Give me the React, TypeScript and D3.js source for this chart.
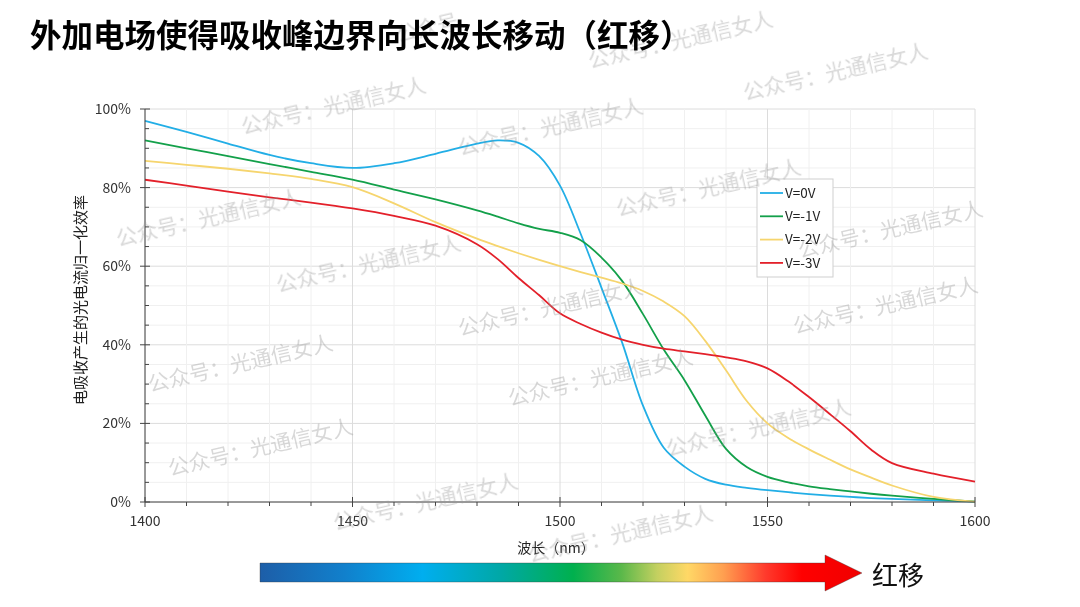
import React from "react";
import * as d3 from "d3";

const wavelengths = [1400, 1410, 1420, 1430, 1440, 1450, 1460, 1470, 1480, 1485, 1490, 1495, 1500, 1505, 1510, 1515, 1520, 1525, 1530, 1535, 1540, 1545, 1550, 1555, 1560, 1565, 1570, 1575, 1580, 1590, 1600];

const v0 = [97, 94.2, 91.2, 88.3, 86.2, 85.0, 86.2, 88.6, 91.2, 92.0, 91.4, 88.0, 80.5, 68.2, 54.5, 40.5, 24.5, 13.8, 9.0, 5.9, 4.4, 3.6, 3.0, 2.5, 2.0, 1.6, 1.3, 1.0, 0.8, 0.4, 0.1];
const v1 = [92, 90, 88, 86, 84, 82, 79.5, 77, 74.2, 72.6, 70.9, 69.5, 68.5, 66.6, 62.2, 56.2, 47.8, 38.8, 31.0, 22.0, 13.5, 8.9, 6.4, 5.0, 4.0, 3.3, 2.7, 2.1, 1.6, 0.8, 0.1];
const v2 = [86.8, 85.8, 84.8, 83.6, 82.2, 80.1, 76.0, 71.2, 67.0, 65.1, 63.3, 61.6, 60.0, 58.5, 57.1, 55.6, 53.7, 51.0, 47.3, 41.0, 33.5, 25.7, 20.0, 16.3, 13.4, 10.8, 8.3, 6.2, 4.2, 1.3, 0.1];
const v3 = [82, 80.5, 79, 77.5, 76.2, 74.7, 72.8, 70.3, 65.6, 61.8, 57.0, 52.6, 48.0, 45.3, 43.1, 41.3, 40.0, 39.0, 38.3, 37.6, 36.8, 35.8, 34.0, 30.7, 26.7, 22.4, 18.0, 13.3, 9.9, 7.2, 5.2];

const seriesNames = ["V=0V", "V=-1V", "V=-2V", "V=-3V"];
const seriesColors = ["#22aee6", "#13a04a", "#f6d56e", "#e3202a"];
const seriesValues = [v0, v1, v2, v3];

const xTicks = [1400, 1450, 1500, 1550, 1600];
const yTicks = [0, 20, 40, 60, 80, 100];

const titleText = "外加电场使得吸收峰边界向长波长移动（红移）";
const xTitle = "波长（nm）";
const yTitle = "电吸收产生的光电流归一化效率";
const arrowLabel = "红移";
const watermarkText = "公众号：光通信女人";
const watermarkShort = "公众号";
const watermarks: [number, number][] = [
  [590, 68], [745, 100], [243, 134], [460, 155], [618, 216],
  [118, 246], [278, 292], [800, 258], [460, 336], [795, 334], [150, 392],
  [510, 406], [668, 456], [170, 476], [335, 530], [530, 562],
];

const W = 1080;
const H = 607;
const left = 145, right = 975, top = 109, bottom = 502;
const FONT = "'Noto Sans CJK SC', 'Noto Sans', sans-serif";

export default function App() {
  const x = d3.scaleLinear().domain([1400, 1600]).range([left, right]);
  const y = d3.scaleLinear().domain([0, 100]).range([bottom, top]);
  const line = d3
    .line<[number, number]>()
    .x((d) => x(d[0]))
    .y((d) => y(d[1]))
    .curve(d3.curveCatmullRom.alpha(0.5));

  const xMinor = d3.range(1400, 1601, 10);
  const yMinor = d3.range(0, 101, 5);

  const legX = 757, legY = 179, legW = 76, legH = 98;

  return (
    <svg width={W} height={H} style={{ position: "absolute", left: 0, top: 0, background: "#fff" }} fontFamily={FONT}>
      <defs>
        <linearGradient id="grad" gradientUnits="userSpaceOnUse" x1={260} y1={0} x2={862} y2={0}>
          <stop offset="0" stopColor="#1d5ea8" />
          <stop offset="0.14" stopColor="#1180cc" />
          <stop offset="0.27" stopColor="#00aeef" />
          <stop offset="0.4" stopColor="#00a8a6" />
          <stop offset="0.52" stopColor="#00b04e" />
          <stop offset="0.6" stopColor="#5ab84a" />
          <stop offset="0.66" stopColor="#c4d060" />
          <stop offset="0.71" stopColor="#ffd866" />
          <stop offset="0.77" stopColor="#ff9f50" />
          <stop offset="0.84" stopColor="#ff3a2c" />
          <stop offset="0.9" stopColor="#ff0000" />
          <stop offset="1" stopColor="#f00000" />
        </linearGradient>
      </defs>

      {/* Watermarks (behind title) */}
      <g fontSize={21} fill="#999" opacity={0.38}>
        <text transform="translate(398,42) rotate(-13)">{watermarkShort}</text>
        {watermarks.slice(0, 1).map(([wx, wy], i) => (
          <text key={"wmt" + i} transform={`translate(${wx},${wy}) rotate(-13)`}>{watermarkText}</text>
        ))}
      </g>

      {/* Title */}
      <text x={30} y={47} fontSize={31.5} fontWeight={700} fill="#000">{titleText}</text>

      {/* Grid */}
      <g>
        {yMinor.map((v) => (
          <line key={"gy" + v} x1={left} x2={right} y1={y(v)} y2={y(v)} stroke={v % 20 === 0 ? "#dcdcdc" : "#f0f0f0"} strokeWidth={1} />
        ))}
        {xMinor.map((v) => (
          <line key={"gx" + v} x1={x(v)} x2={x(v)} y1={top} y2={bottom} stroke={v % 50 === 0 ? "#dcdcdc" : "#f0f0f0"} strokeWidth={1} />
        ))}
      </g>

      {/* Lines */}
      <g fill="none" strokeWidth={1.8}>
        {seriesValues.map((vals, i) => (
          <path
            key={seriesNames[i]}
            d={line(wavelengths.map((w, j) => [w, vals[j]] as [number, number])) || ""}
            stroke={seriesColors[i]}
          />
        ))}
      </g>

      {/* Axes */}
      <g stroke="#444" strokeWidth={1}>
        <line x1={left} x2={left} y1={top} y2={bottom} />
        <line x1={left} x2={right} y1={bottom} y2={bottom} />
        {yMinor.map((v) =>
          v % 20 === 0 ? (
            <line key={"ty" + v} x1={left - 5} x2={left + 5} y1={y(v)} y2={y(v)} />
          ) : (
            <line key={"ty" + v} x1={left} x2={left + 4} y1={y(v)} y2={y(v)} />
          )
        )}
        {xMinor.map((v) =>
          v % 50 === 0 ? (
            <line key={"tx" + v} x1={x(v)} x2={x(v)} y1={bottom - 5} y2={bottom + 5} />
          ) : (
            <line key={"tx" + v} x1={x(v)} x2={x(v)} y1={bottom} y2={bottom + 4} />
          )
        )}
      </g>
      <g fontSize={14} fill="#333">
        {yTicks.map((v) => (
          <text key={"ly" + v} x={131} y={y(v)} dy="0.35em" textAnchor="end">{v}%</text>
        ))}
        {xTicks.map((v) => (
          <text key={"lx" + v} x={x(v)} y={526} textAnchor="middle">{v}</text>
        ))}
      </g>
      <text x={556} y={553} fontSize={14} textAnchor="middle" fill="#222">{xTitle}</text>
      <text transform={`translate(86,300) rotate(-90)`} fontSize={15} textAnchor="middle" fill="#222">{yTitle}</text>

      {/* Legend */}
      <rect x={legX} y={legY} width={legW} height={legH} fill="#fff" stroke="#cfcfcf" />
      {seriesNames.map((n, i) => (
        <g key={"leg" + n} transform={`translate(0,${legY + 14 + i * 23.3})`}>
          <line x1={760} x2={783} y1={0} y2={0} stroke={seriesColors[i]} strokeWidth={1.8} />
          <text x={785} y={0} dy="0.35em" fontSize={13.5} fill="#222">{n}</text>
        </g>
      ))}

      {/* Gradient arrow */}
      <path d="M260,563 L825,563 L825,555 L862,573 L825,591 L825,582 L260,582 Z" fill="url(#grad)" stroke="rgba(60,60,60,0.45)" strokeWidth={0.8} />
      <text x={872} y={585} fontSize={26} fill="#111">{arrowLabel}</text>

      {/* Watermarks */}
      <g fontSize={21} fill="#999" opacity={0.38}>
        {watermarks.slice(1).map(([wx, wy], i) => (
          <text key={"wm" + i} transform={`translate(${wx},${wy}) rotate(-13)`}>{watermarkText}</text>
        ))}
      </g>
    </svg>
  );
}
